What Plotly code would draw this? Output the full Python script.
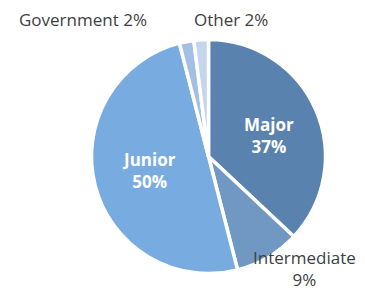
import plotly.graph_objects as go

labels = ["Major", "Intermediate", "Junior", "Government", "Other"]
values = [37, 9, 50, 2, 2]
colors = ["#5a82af", "#7098c2", "#78ace0", "#a3c0e3", "#c4d5ec"]

# the page body has an 8px margin; size the figure to fill the rest of the window
OFF = 8
W, H = 365 - OFF, 290 - OFF
cx, cy, r = 208.5 - OFF, 156.5 - OFF, 117

fig = go.Figure(go.Pie(
    labels=labels, values=values, sort=False, direction="clockwise", rotation=0,
    marker=dict(colors=colors, line=dict(color="white", width=3.5)),
    textinfo="none", hoverinfo="label+percent", showlegend=False,
    domain=dict(x=[(cx - r) / W, (cx + r) / W], y=[(H - cy - r) / H, (H - cy + r) / H]),
))

# label placements (window pixel coordinates)
label_pos = {
    "Major": (269, 135, True),
    "Junior": (149, 170, True),
    "Intermediate": (304, 268, False),
    "Government": (83, 19, False),
    "Other": (231, 19, False),
}
FONT = "Open Sans, Liberation Sans"
ann = []
for lab, val in zip(labels, values):
    x, y, inside = label_pos[lab]
    if inside:
        txt = f"<b>{lab}<br>{val}%</b>"
        font = dict(family=FONT, size=17, color="white")
    elif lab == "Intermediate":
        txt = f"{lab}<br>{val}%"
        font = dict(family=FONT, size=17, color="#404040")
    else:
        txt = f"{lab} {val}%"
        font = dict(family=FONT, size=17, color="#404040")
    ann.append(dict(x=(x - OFF) / W, y=1 - (y - OFF) / H, xref="paper", yref="paper",
                    text=txt, showarrow=False, font=font, borderpad=0,
                    xanchor="center", yanchor="middle"))

fig.update_layout(width=W, height=H, margin=dict(l=0, r=0, t=0, b=0),
                  paper_bgcolor="white", plot_bgcolor="white", annotations=ann)
fig.write_html("out.html")
